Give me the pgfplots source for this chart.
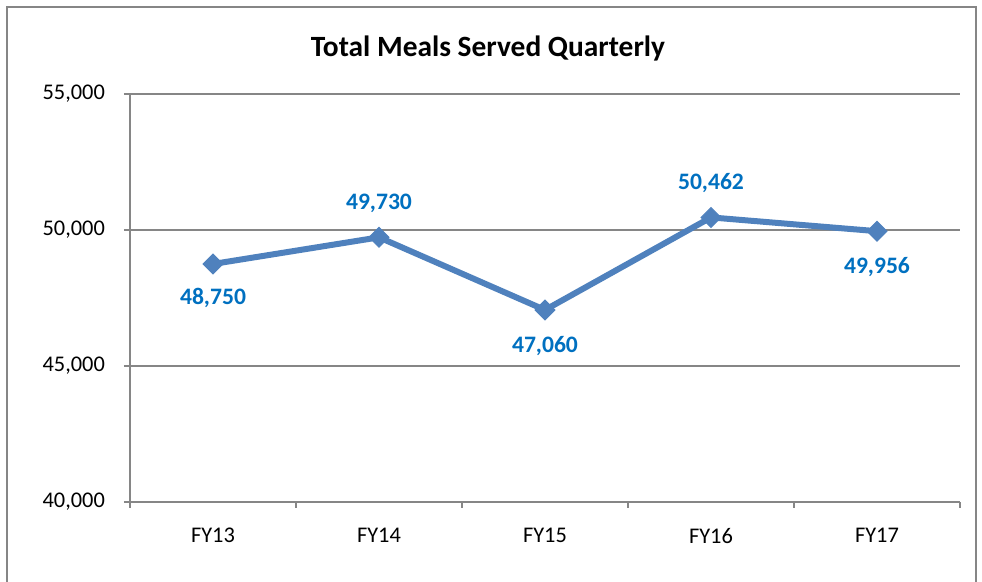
\documentclass[border=0pt]{standalone}
\usepackage{fontspec}
\setmainfont{Carlito}
\usepackage{pgfplots}
\usepackage{pgfplotstable}
\pgfplotsset{compat=1.18}
\definecolor{linecol}{RGB}{79,129,189}
\definecolor{labcol}{RGB}{0,112,192}
\definecolor{gridcol}{RGB}{134,134,134}
\pgfplotstableread{
x y dy
0 48750 -17
1 49730 17
2 47060 -18
3 50462 17
4 49956 -18
}\meals
\begin{document}
\begin{tikzpicture}
\useasboundingbox (-65pt,-40pt) rectangle (426pt,251pt);
\draw[gridcol, line width=1pt] (-61.25pt,-45pt) rectangle (423pt,247.25pt);
\node[font=\bfseries\fontsize{14.7}{17}\selectfont] at (179pt,226.5pt) {Total Meals Served Quarterly};
\begin{axis}[
  at={(0pt,0pt)}, anchor=south west,
  scale only axis, width=415pt, height=204pt,
  xmin=-0.5, xmax=4.5, ymin=40000, ymax=55000,
  axis x line*=bottom, axis y line*=left,
  axis line style={gridcol, line width=0.9pt, -},
  ytick={40000,45000,50000,55000},
  xtick={0,1,2,3,4},
  xticklabels={FY13,FY14,FY15,FY16,FY17},
  minor xtick={-0.5,0.5,1.5,2.5,3.5,4.5},
  tick align=outside,
  major tick length=3pt, minor tick length=3pt,
  major x tick style={draw=none},
  minor x tick style={gridcol, line width=0.9pt},
  y tick style={gridcol, line width=0.9pt},
  ymajorgrids, grid style={gridcol, line width=0.9pt},
  tick label style={font=\fontsize{11.2}{13}\selectfont},
  xticklabel style={yshift=-6.5pt},
  yticklabel style={xshift=-6pt},
  /pgf/number format/assume math mode=true,
  scaled y ticks=false,
  yticklabel={\pgfmathprintnumber[fixed,1000 sep={,}]{\tick}},
  clip=false,
]
\addplot[linecol, line width=3pt, mark=square*, mark size=3.5pt,
  mark options={fill=linecol, draw=linecol, line width=0.5pt, rotate=45},
  nodes near coords={\pgfmathprintnumber[fixed,1000 sep={,}]{\pgfplotspointmeta}},
  point meta=explicit,
  visualization depends on={\thisrow{dy} \as \dy},
  every node near coord/.append style={anchor=center, yshift=\dy*1pt, text=labcol,
    font=\bfseries\fontsize{11.8}{14}\selectfont}]
  table[x=x, y=y, meta=y] {\meals};
\end{axis}
\end{tikzpicture}
\end{document}
